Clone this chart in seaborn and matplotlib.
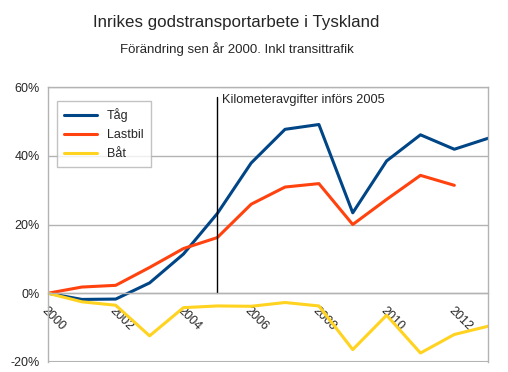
import numpy as np
import pandas as pd
import matplotlib
matplotlib.use("Agg")
import matplotlib.pyplot as plt
import seaborn as sns
from matplotlib.ticker import FuncFormatter

# -- Data (förändring i % sedan 2000)
years = list(range(2000, 2014))
tag = [0, -1.8, -1.7, 3.0, 11.4, 23.2, 37.9, 47.7, 49.1, 23.4, 38.5, 46.1, 41.9, 45.1]
lastbil = [0, 1.8, 2.3, 7.5, 13.0, 16.2, 25.9, 30.9, 31.9, 20.0, 27.3, 34.3, 31.4, np.nan]
bat = [0, -2.5, -3.5, -12.4, -4.2, -3.7, -3.8, -2.7, -3.7, -16.4, -6.4, -17.4, -12.0, -9.6]
series = ["Tåg", "Lastbil", "Båt"]
colors = ["#004586", "#ff420e", "#ffd320"]

df = pd.DataFrame({"År": years, "Tåg": tag, "Lastbil": lastbil, "Båt": bat})
long_df = df.melt(id_vars="År", var_name="Transportslag", value_name="Förändring")

sns.set_style("white")
plt.rcParams["font.family"] = ["Liberation Sans", "DejaVu Sans"]

fig = plt.figure(figsize=(5.08, 3.72), dpi=100)
ax = fig.add_axes([0.0945, 0.027, 0.8665, 0.739])

sns.lineplot(data=long_df, x="År", y="Förändring", hue="Transportslag",
             hue_order=series, palette=colors, linewidth=2.2, ax=ax)

ax.set_xlim(2000, 2013)
ax.set_ylim(-20, 60)
ax.set_yticks([-20, 0, 20, 40, 60])
ax.yaxis.set_major_formatter(FuncFormatter(lambda v, p: f"{v:.0f}%"))
ax.set_xticks(range(2000, 2014))
ax.set_xticklabels([str(y) if y % 2 == 0 else "" for y in years])
ax.set_xlabel("")
ax.set_ylabel("")
ax.grid(axis="y", color="#b3b3b3", linewidth=1)
ax.set_axisbelow(True)

for side in ["left", "right", "top", "bottom"]:
    ax.spines[side].set_color("#b3b3b3")
    ax.spines[side].set_linewidth(1)
ax.spines["bottom"].set_position(("data", 0))
ax.axhline(-20, color="#b3b3b3", linewidth=1.5, zorder=0)

ax.tick_params(axis="x", direction="out", length=5, color="#b3b3b3",
               labelsize=9, pad=3)
ax.tick_params(axis="y", length=0, labelsize=9, pad=6)
plt.setp(ax.get_xticklabels(), rotation=-45, ha="left", va="top",
         rotation_mode="anchor")

# -- Kilometeravgifter
ax.plot([2005, 2005], [0, 57], color="black", linewidth=1)
ax.text(2005.15, 56.2, "Kilometeravgifter införs 2005", fontsize=9.2, va="center", ha="left")

leg = ax.legend(loc="upper left", bbox_to_anchor=(0.02, 0.95), fontsize=9,
                frameon=True, fancybox=False, edgecolor="#b3b3b3",
                handlelength=2.6, borderpad=0.6, labelspacing=0.55,
                borderaxespad=0)
leg.get_frame().set_linewidth(1)
leg.set_title(None)

fig.text(0.465, 0.94, "Inrikes godstransportarbete i Tyskland", fontsize=12.2, ha="center", va="center")
fig.text(0.466, 0.868, "Förändring sen år 2000. Inkl transittrafik", fontsize=9.5, ha="center", va="center")

fig.savefig("out.png", dpi=100)
